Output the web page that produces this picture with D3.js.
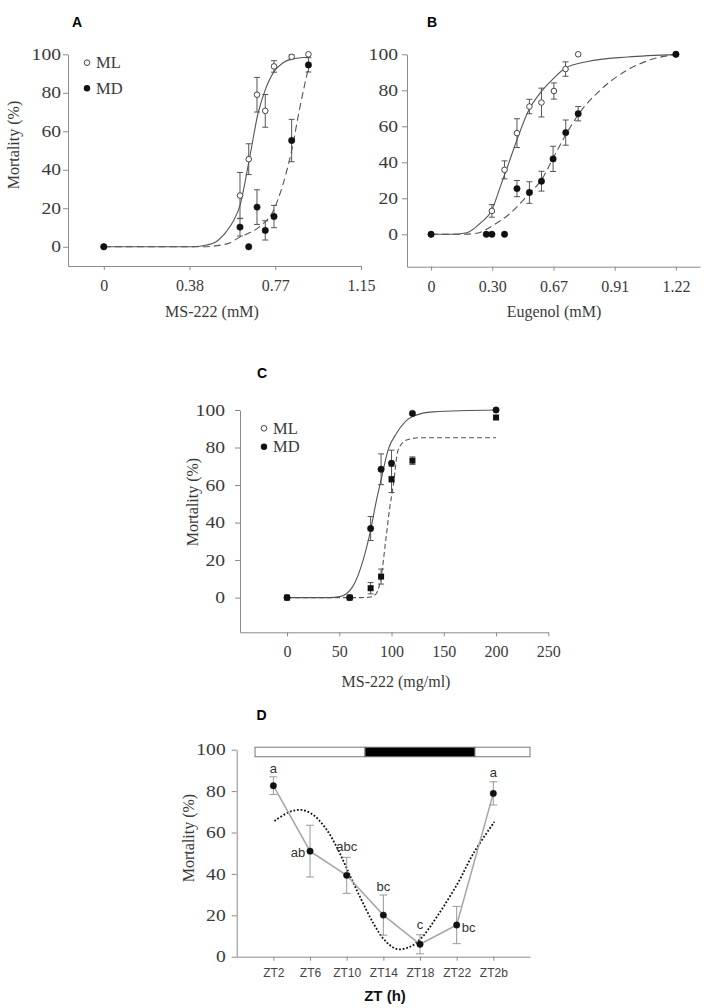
<!DOCTYPE html>
<html><head><meta charset="utf-8">
<script src="https://cdn.jsdelivr.net/npm/d3@7"></script>
<style>body{margin:0;background:#fff} svg{display:block}</style>
</head><body>
<svg id="c" width="709" height="1008"></svg>
<script>
// ---------- Panel A: MS-222 (mM) ----------
const aX      = [0, 0.609, 0.648, 0.685, 0.722, 0.761, 0.84, 0.915];
const aML     = [0, 26.6, 45.5, 79, 70.6, 93.7, 98.7, 100];
const aMLerr  = [0, 12, 8, 9, 8.5, 3, 1, 0];
const aMD     = [0, 10.2, 0, 20.6, 8.5, 15.7, 55.2, 94.5];
const aMDerr  = [0, 4.6, 0, 9, 5, 5.8, 11, 3.7];
const aFitMLx = [0, 0.40, 0.46, 0.50, 0.548, 0.58, 0.609, 0.65, 0.69, 0.722, 0.761, 0.80, 0.84, 0.915];
const aFitML  = [0, 0, 0.9, 2.5, 7.9, 13.5, 21.5, 45, 69.5, 81.5, 91, 95.5, 97.5, 98.5];
const aFitMDx = [0, 0.44, 0.55, 0.608, 0.697, 0.757, 0.80, 0.84, 0.876, 0.915];
const aFitMD  = [0, 0, 1.5, 5, 10.5, 18.5, 32, 50, 72, 93];
const aTickVals = [0, 0.3833, 0.7667, 1.15];
const aTickLabels = ["0", "0.38", "0.77", "1.15"];

// ---------- Panel B: Eugenol (mM) ----------
const bXML    = [0, 0.303, 0.366, 0.428, 0.49, 0.55, 0.612, 0.67, 0.733, 1.22];
const bML     = [0, 13, 35.8, 56.2, 71, 73.2, 79.6, 91.8, 100, 100];
const bMLerr  = [0, 3.5, 5, 8, 4, 8, 4.5, 4, 0, 0];
const bXMD    = [0, 0.275, 0.303, 0.366, 0.428, 0.49, 0.55, 0.608, 0.671, 0.733, 1.22];
const bMD     = [0, 0, 0, 0, 25.4, 23.2, 29.5, 41.9, 56.5, 67, 100];
const bMDerr  = [0, 0, 0, 0, 4.5, 6, 5.5, 7, 7, 4, 0];
const bFitMLx = [0, 0.10, 0.178, 0.245, 0.303, 0.345, 0.387, 0.428, 0.487, 0.55, 0.612, 0.67, 0.78, 0.98, 1.22];
const bFitML  = [0, 0, 0.9, 6.1, 13.5, 26.5, 39.5, 52.5, 69, 79.4, 86.8, 92.4, 96, 98.5, 99.8];
const bFitMDx = [0, 0.15, 0.228, 0.312, 0.395, 0.49, 0.55, 0.608, 0.671, 0.733, 0.845, 0.98, 1.11, 1.22];
const bFitMD  = [0, 0, 0.6, 5.2, 11.7, 22.8, 30.2, 42.3, 55.3, 66.4, 80.3, 91.4, 97.5, 99.8];
const bTickVals = [0, 0.305, 0.61, 0.915, 1.22];
const bTickLabels = ["0", "0.30", "0.67", "0.91", "1.22"];

// ---------- Panel C: MS-222 (mg/ml) ----------
const cX      = [0, 60, 80, 90, 100, 120, 200];
const cML     = [0, 0, 36.8, 68.4, 71.6, 98.2, 100];
const cMLerr  = [0, 0, 6.4, 8.2, 7, 0, 0];
const cMD     = [0, 0, 5, 11.2, 63, 73, 96];
const cMDerr  = [0, 0, 3, 4, 7, 2, 1];
const cFitMLx = [0, 40, 50.6, 63, 72.8, 80, 85.6, 90, 96.7, 104.8, 119.7, 139.8, 200];
const cFitML  = [0, 0, 0.5, 6, 20, 36, 52, 62.7, 78.7, 87.6, 96.4, 99, 100];
const cFitMDx = [0, 70, 80, 85.6, 90, 94.5, 98.4, 101.5, 106.3, 114.4, 127, 200];
const cFitMD  = [0, 0, 0.3, 2.3, 11, 30.7, 48.5, 59, 78.7, 84, 85.2, 85.2];
const cTickVals = [0, 50, 100, 150, 200, 250];

// ---------- Panel D: ZT ----------
const dCats   = ["ZT2", "ZT6", "ZT10", "ZT14", "ZT18", "ZT22", "ZT2b"];
const dVals   = [82.6, 51, 39.3, 20.1, 6, 15.3, 78.9];
const dErr    = [4.3, 12.5, 8.7, 9.7, 4.6, 9, 5.6];
const dLetters = ["a", "ab", "abc", "bc", "c", "bc", "a"];
const dFitU   = [1.03, 1.45, 1.77, 2.09, 2.46, 2.77, 3.02, 3.36, 3.73, 4.03, 4.37, 4.73, 5.03, 5.46, 6.03, 6.46, 7.03];
const dFitY   = [65.6, 70.0, 70.9, 68.5, 61.2, 51.5, 41.9, 29, 16.1, 8.1, 3.7, 4.8, 8.9, 19.3, 35.5, 50, 65.2];
const dLightFrom = [0, 12, 24];
const dLightTo   = [12, 24, 30];
const dLightDark = [false, true, false];
const yTicks = [0, 20, 40, 60, 80, 100];

const svg = d3.select('#c');
const SERIF = "'Liberation Serif','Times New Roman',serif";
const SANS = "'Liberation Sans',Arial,sans-serif";
const AX = '#8a8a8a', TXT = '#3a3a3a', LN = '#555';

function styleAxis(g, font, size) {
  g.select('.domain').attr('stroke', AX).attr('stroke-width', 1);
  g.selectAll('.tick line').attr('stroke', AX);
  g.selectAll('.tick text').attr('fill', TXT).style('font-family', font).style('font-size', size + 'px');
}

function drawAxes(x, y, o) {
  const gx = svg.append('g').attr('transform', `translate(0,${y.range()[0]})`)
    .call(d3.axisBottom(x).tickValues(o.xTicks).tickFormat((d, i) => o.xLabels ? o.xLabels[i] : d)
      .tickSize(4).tickSizeOuter(0).tickPadding(o.xPad));
  styleAxis(gx, o.xFont || SERIF, o.xFontSize || 16);
  if (o.xFill) gx.selectAll('.tick text').attr('fill', o.xFill);
  const gy = svg.append('g').attr('transform', `translate(${x.range()[0]},0)`)
    .call(d3.axisLeft(y).tickValues(yTicks).tickSize(5).tickSizeOuter(0).tickPadding(o.yPad));
  styleAxis(gy, SERIF, 16);
  // reference y-tick numerals are drawn wider than the x-tick numerals
  gy.selectAll('.tick text').each(function () {
    const n = this.textContent.length;
    d3.select(this).attr('textLength', n * 9.8).attr('lengthAdjust', 'spacingAndGlyphs');
  });
}

function errBars(x, y, xs, ys, es, color, cap) {
  xs.forEach((xv, i) => {
    if (!es[i]) return;
    const px = x(xv), t = y(ys[i] + es[i]), b = y(ys[i] - es[i]);
    const g = svg.append('g').attr('stroke', color).attr('stroke-width', 1);
    g.append('line').attr('x1', px).attr('x2', px).attr('y1', t).attr('y2', b);
    g.append('line').attr('x1', px - cap).attr('x2', px + cap).attr('y1', t).attr('y2', t);
    g.append('line').attr('x1', px - cap).attr('x2', px + cap).attr('y1', b).attr('y2', b);
  });
}

function fitLine(x, y, xs, ys, dash) {
  const line = d3.line().x(d => x(d[0])).y(d => y(d[1])).curve(d3.curveMonotoneX);
  svg.append('path').datum(xs.map((v, i) => [v, ys[i]]))
    .attr('d', line).attr('fill', 'none').attr('stroke', LN).attr('stroke-width', 1.1)
    .attr('stroke-dasharray', dash || null);
}

function dots(x, y, xs, ys, open, shape) {
  xs.forEach((xv, i) => {
    if (shape === 'square') {
      svg.append('rect').attr('x', x(xv) - 3).attr('y', y(ys[i]) - 3).attr('width', 6).attr('height', 6).attr('fill', '#111');
    } else {
      svg.append('circle').attr('cx', x(xv)).attr('cy', y(ys[i])).attr('r', open ? 2.8 : 3.2)
        .attr('fill', open ? '#fff' : '#111').attr('stroke', open ? '#444' : '#111').attr('stroke-width', open ? 1 : 0.5);
    }
  });
}

function text(x, y, s, o) {
  const t = svg.append('text').attr('x', x).attr('y', y).text(s)
    .style('font-family', o.font || SERIF).style('font-size', (o.size || 16) + 'px')
    .attr('fill', o.fill || TXT).attr('text-anchor', o.anchor || 'start');
  if (o.bold) t.style('font-weight', 'bold');
  if (o.rotate) t.attr('transform', `rotate(-90,${x},${y})`);
  return t;
}

function legend(x, y1, y2) {
  svg.append('circle').attr('cx', x).attr('cy', y1).attr('r', 2.8).attr('fill', '#fff').attr('stroke', '#444');
  svg.append('circle').attr('cx', x).attr('cy', y2).attr('r', 3.2).attr('fill', '#111');
  text(x + 9, y1 + 5.5, 'ML', {size: 16.5});
  text(x + 9, y2 + 5.5, 'MD', {size: 16.5});
}

// ---------- A ----------
{
  const x = d3.scaleLinear().domain([-0.16, 1.15]).range([68, 361]);
  const y = d3.scaleLinear().domain([-10, 100]).range([266, 54.3]);
  drawAxes(x, y, {xTicks: aTickVals, xLabels: aTickLabels, xPad: 10, yPad: 2});
  fitLine(x, y, aFitMLx, aFitML);
  fitLine(x, y, aFitMDx, aFitMD, '7,4');
  errBars(x, y, aX, aML, aMLerr, '#555', 3);
  errBars(x, y, aX, aMD, aMDerr, '#555', 3);
  dots(x, y, aX, aML, true);
  dots(x, y, aX, aMD, false);
  legend(87, 62.7, 88.3);
  text(72, 27, 'A', {font: SANS, size: 14, bold: true, fill: '#000'});
  text(212, 317, 'MS-222 (mM)', {anchor: 'middle'});
  text(19, 145, 'Mortality (%)', {anchor: 'middle', rotate: true});
}
// ---------- B ----------
{
  const x = d3.scaleLinear().domain([-0.12, 1.34]).range([407, 700]);
  const y = d3.scaleLinear().domain([-18, 100]).range([266.7, 54.3]);
  drawAxes(x, y, {xTicks: bTickVals, xLabels: bTickLabels, xPad: 10, yPad: 4});
  fitLine(x, y, bFitMLx, bFitML);
  fitLine(x, y, bFitMDx, bFitMD, '7,4');
  errBars(x, y, bXML, bML, bMLerr, '#555', 3);
  errBars(x, y, bXMD, bMD, bMDerr, '#555', 3);
  dots(x, y, bXML, bML, true);
  dots(x, y, bXMD, bMD, false);
  text(427, 27, 'B', {font: SANS, size: 14, bold: true, fill: '#000'});
  text(554, 317, 'Eugenol (mM)', {anchor: 'middle'});
}
// ---------- C ----------
{
  const x = d3.scaleLinear().domain([-45, 250]).range([240, 548.3]);
  const y = d3.scaleLinear().domain([-18.5, 100]).range([632.3, 410]);
  drawAxes(x, y, {xTicks: cTickVals, xPad: 9, yPad: 10});
  fitLine(x, y, cFitMLx, cFitML);
  fitLine(x, y, cFitMDx, cFitMD, '5,3');
  errBars(x, y, cX, cML, cMLerr, '#555', 3);
  errBars(x, y, cX, cMD, cMDerr, '#555', 3);
  dots(x, y, cX, cMD, false, 'square');
  dots(x, y, cX, cML, false);
  legend(264, 428.3, 446.7);
  text(257, 378, 'C', {font: SANS, size: 14, bold: true, fill: '#000'});
  text(396, 687, 'MS-222 (mg/ml)', {anchor: 'middle'});
  text(198, 502, 'Mortality (%)', {anchor: 'middle', rotate: true});
}
// ---------- D ----------
{
  const x = d3.scaleLinear().domain([0, 8]).range([236.7, 530]);
  const y = d3.scaleLinear().domain([0, 100]).range([956.7, 749.7]);
  const idx = dCats.map((c, i) => i + 1);
  drawAxes(x, y, {xTicks: idx, xLabels: dCats, xPad: 8, xFont: SANS, xFontSize: 12, xFill: '#444', yPad: 6});
  // light/dark bar (hours -> axis units)
  const hu = h => (h + 2) / 4;
  dLightFrom.forEach((h, i) => {
    svg.append('rect').attr('x', x(hu(h))).attr('y', y(101.2))
      .attr('width', x(hu(dLightTo[i])) - x(hu(h))).attr('height', y(96.6) - y(101.2))
      .attr('fill', dLightDark[i] ? '#000' : '#fff').attr('stroke', '#777').attr('stroke-width', 1);
  });
  // dotted fit
  const fl = d3.line().x(d => x(d[0])).y(d => y(d[1])).curve(d3.curveCatmullRom);
  svg.append('path').datum(dFitU.map((u, i) => [u, dFitY[i]])).attr('d', fl)
    .attr('fill', 'none').attr('stroke', '#111').attr('stroke-width', 1.8).attr('stroke-dasharray', '1.8,1.8');
  // connecting line
  const cl = d3.line().x(d => x(d[0])).y(d => y(d[1]));
  svg.append('path').datum(idx.map((u, i) => [u, dVals[i]])).attr('d', cl)
    .attr('fill', 'none').attr('stroke', '#a5a5a5').attr('stroke-width', 1.5);
  errBars(x, y, idx, dVals, dErr, '#999', 4);
  dots(x, y, idx, dVals, false);
  // letter offsets relative to each point (px): [dx, dy of text centre]
  const lp = [[0, -17.5], [-12, 1.5], [0, -28.5], [0, -29], [0, -19.5], [12, 2.5], [0, -20.5]];
  idx.forEach((u, i) => {
    text(x(u) + lp[i][0], y(dVals[i]) + lp[i][1] + 4.5, dLetters[i],
      {font: SANS, size: 13, anchor: 'middle', fill: '#333'});
  });
  text(256.5, 720, 'D', {font: SANS, size: 14, bold: true, fill: '#000'});
  text(385, 1001, 'ZT (h)', {font: SANS, size: 15, bold: true, anchor: 'middle', fill: '#111'});
  text(194, 838, 'Mortality (%)', {anchor: 'middle', rotate: true});
}
</script>
</body></html>
